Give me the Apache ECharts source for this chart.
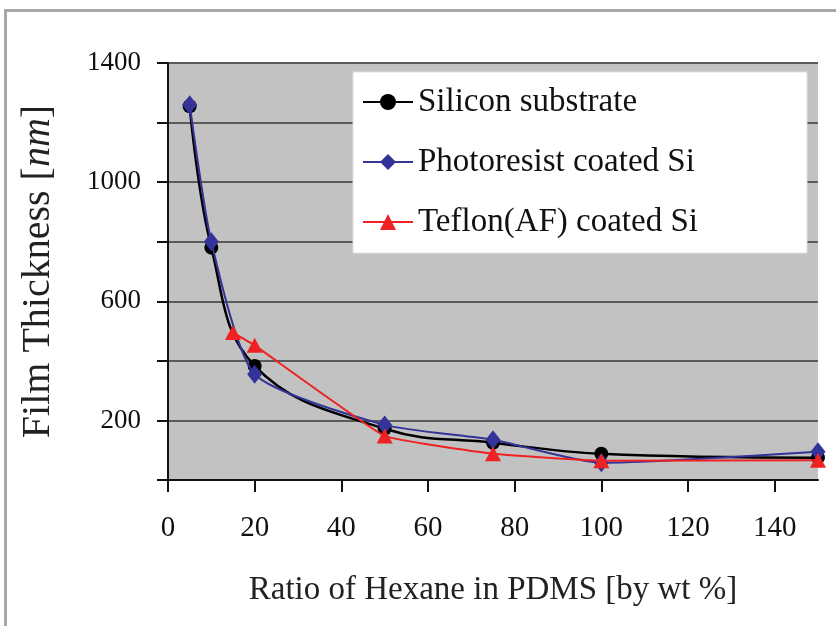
<!DOCTYPE html>
<html>
<head>
<meta charset="utf-8">
<script src="https://cdn.jsdelivr.net/npm/echarts@6/dist/echarts.min.js"></script>
<style>
html,body{margin:0;padding:0;background:#fff;}
#frame{position:absolute;left:4px;top:9px;width:900px;height:700px;border-top:3px solid #a8a8a8;border-left:3px solid #a8a8a8;}
#chart{position:absolute;left:0;top:0;width:836px;height:626px;}
</style>
</head>
<body>
<div id="frame"></div>
<div id="chart"></div>
<script>
// Data
const xTicks = [0, 20, 40, 60, 80, 100, 120, 140];
const yLabelValues = [200, 600, 1000, 1400];
const seriesNames = ['Silicon substrate', 'Photoresist coated Si', 'Teflon(AF) coated Si'];

const siliconX = [5, 10, 20, 50, 75, 100, 150];
const siliconY = [1255, 780, 383, 172, 125, 88, 75];

const photoX = [5, 10, 20, 50, 75, 100, 150];
const photoY = [1260, 800, 355, 185, 135, 58, 95];

const teflonX = [15, 20, 50, 75, 100, 150];
const teflonY = [495, 452, 148, 88, 65, 66];

const pairs = (xs, ys) => xs.map((x, i) => [x, ys[i]]);

const serif = '"Liberation Serif", "DejaVu Serif", serif';
const chart = echarts.init(document.getElementById('chart'));
chart.setOption({
  animation: false,
  backgroundColor: 'transparent',
  grid: { left: 168, right: 18, top: 63, bottom: 146, show: true, backgroundColor: '#c2c2c2', borderWidth: 0 },
  graphic: [{
    type: 'rect', z: 3,
    shape: { x: 353, y: 72, width: 454, height: 181 },
    style: { fill: '#ffffff', stroke: '#e0e0e0', lineWidth: 1 }
  }],
  legend: {
    orient: 'vertical', left: 362, top: 84, z: 5,
    itemWidth: 50, itemHeight: 20, itemGap: 24, padding: 0,
    textStyle: { fontFamily: serif, fontSize: 33, color: '#111', lineHeight: 36 },
    data: seriesNames
  },
  xAxis: {
    type: 'value', min: 0, max: 150, interval: 20,
    name: 'Ratio of Hexane in PDMS [by wt %]', nameLocation: 'middle', nameGap: 94,
    nameTextStyle: { fontFamily: serif, fontSize: 33, color: '#222' },
    axisLine: { show: true, lineStyle: { color: '#111', width: 2 } },
    axisTick: { show: true, length: 12, lineStyle: { color: '#111', width: 2 }, customValues: xTicks },
    axisLabel: { fontFamily: serif, fontSize: 29, color: '#111', margin: 34, customValues: xTicks },
    splitLine: { show: false }
  },
  yAxis: {
    type: 'value', min: 0, max: 1400, interval: 200,
    name: 'Film Thickness [{i|nm}]', nameLocation: 'middle', nameGap: 110, nameRotate: 90,
    nameTextStyle: { fontFamily: serif, fontSize: 40, color: '#222',
      rich: { i: { fontFamily: serif, fontSize: 40, fontStyle: 'italic', color: '#222' } } },
    axisLine: { show: true, lineStyle: { color: '#111', width: 2 } },
    axisTick: { show: true, length: 11, lineStyle: { color: '#111', width: 2 } },
    axisLabel: { fontFamily: serif, fontSize: 27, color: '#111', margin: 27,
      customValues: yLabelValues, formatter: v => String(v) },
    splitLine: { show: true, lineStyle: { color: '#5a5a5a', width: 2 } }
  },
  series: [
    {
      name: seriesNames[0], type: 'line', data: pairs(siliconX, siliconY), smooth: 0.4,
      symbol: 'circle', symbolSize: 14,
      lineStyle: { color: '#000', width: 2.5 }, itemStyle: { color: '#000' }, z: 3
    },
    {
      name: seriesNames[1], type: 'line', data: pairs(photoX, photoY), smooth: 0.2,
      symbol: 'diamond', symbolSize: [15, 19],
      lineStyle: { color: '#333399', width: 2 }, itemStyle: { color: '#333399' }, z: 4
    },
    {
      name: seriesNames[2], type: 'line', data: pairs(teflonX, teflonY), smooth: 0.1,
      symbol: 'triangle', symbolSize: [16, 15],
      lineStyle: { color: '#ee2222', width: 2 }, itemStyle: { color: '#ee2222' }, z: 5
    }
  ]
});
</script>
</body>
</html>
